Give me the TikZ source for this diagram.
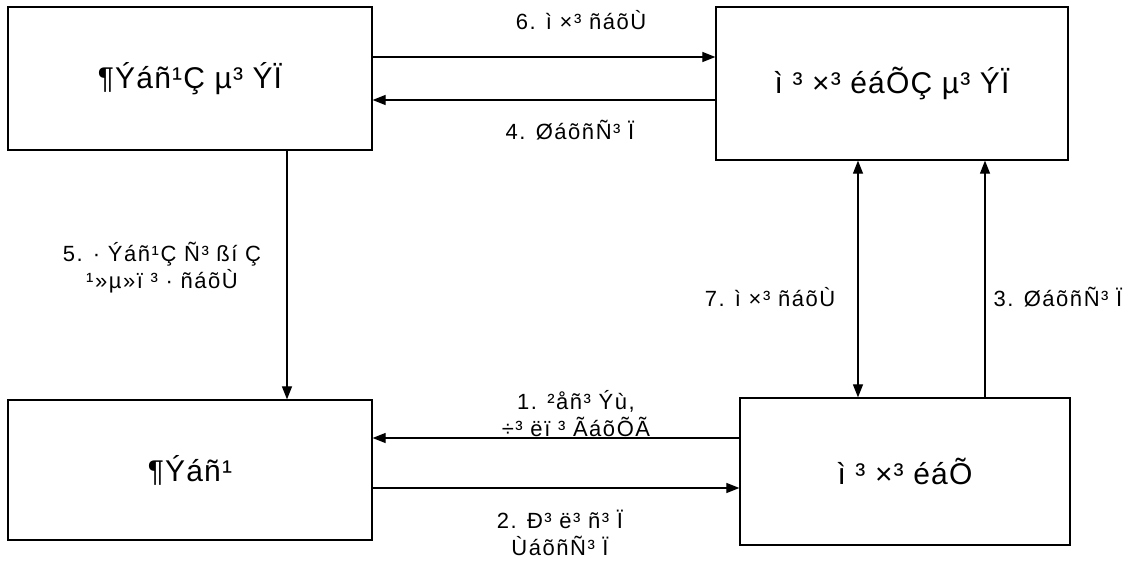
\documentclass[tikz,border=0pt]{standalone}
\usepackage{fontspec}
\setmainfont{Liberation Sans}
\usetikzlibrary{arrows.meta,calc}
\begin{document}
\begin{tikzpicture}[x=1pt,y=-1pt,
  box/.style={draw,line width=1.3pt,rectangle,inner sep=0pt,font=\fontsize{30}{34}\selectfont\addfontfeatures{LetterSpace=4}},
  lbl/.style={inner sep=0pt,align=center,font=\fontsize{22}{27}\selectfont\addfontfeatures{LetterSpace=7}},
  arr/.style={line width=1.2pt,-{Triangle[length=13pt,width=10pt]}},
  darr/.style={line width=1.2pt,{Triangle[length=13pt,width=10pt]}-{Triangle[length=13pt,width=10pt]}}]
\useasboundingbox (0,0) rectangle (1144,560);
\node[box,minimum width=364pt,minimum height=143pt] (tl) at (190,78.5) {¶Ýáñ¹Ç µ³ ÝÏ};
\node[box,minimum width=352pt,minimum height=153pt] (tr) at (892,83.5) {ì ³ ×³ éáÕÇ µ³ ÝÏ};
\node[box,minimum width=364pt,minimum height=140pt] (bl) at (190,470) {¶Ýáñ¹};
\node[box,minimum width=330pt,minimum height=147pt] (br) at (905,471.5) {ì ³ ×³ éáÕ};
\draw[arr] (tl.east |- 0,57) -- (tr.west |- 0,57);
\draw[arr] (tr.west |- 0,100) -- (tl.east |- 0,100);
\draw[arr] (tl.south -| 287,0) -- (bl.north -| 287,0);
\draw[darr] (tr.south -| 858,0) -- (br.north -| 858,0);
\draw[arr] (br.north -| 985,0) -- (tr.south -| 985,0);
\draw[arr] (br.west |- 0,438) -- (bl.east |- 0,438);
\draw[arr] (bl.east |- 0,488) -- (br.west |- 0,488);
\node[lbl] (l6) at (581,20) {6. ì ×³ ñáõÙ};
\node[lbl] (l4) at (570,130) {4. ØáõñÑ³ Ï};
\node[lbl] (l5) at (162,268) {5. · Ýáñ¹Ç Ñ³ ßí Ç\\¹»µ»ï ³ · ñáõÙ};
\node[lbl] (l7) at (770,297) {7. ì ×³ ñáõÙ};
\node[lbl] (l3) at (1058,297) {3. ØáõñÑ³ Ï};
\node[lbl] (l1) at (576,414) {1. ²åñ³ Ýù,\\÷³ ëï ³ ÃáõÕÃ};
\node[lbl] (l2) at (560,533) {2. Ð³ ë³ ñ³ Ï\\ÙáõñÑ³ Ï};
\end{tikzpicture}
\end{document}
